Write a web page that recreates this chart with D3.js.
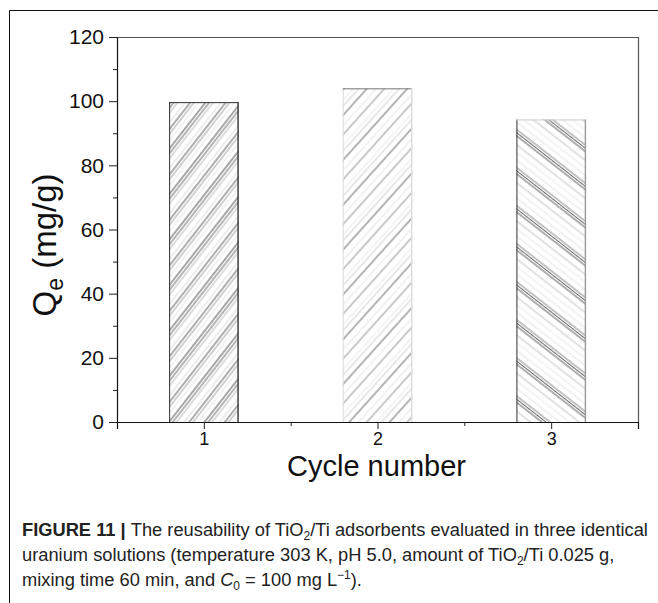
<!DOCTYPE html>
<html>
<head>
<meta charset="utf-8">
<script src="https://cdn.jsdelivr.net/npm/d3@7"></script>
<style>
  html, body { margin: 0; padding: 0; background: #fff; }
  svg { display: block; font-family: "Liberation Sans", Arial, sans-serif; }
</style>
</head>
<body>
<svg id="chart" width="658" height="603"></svg>
<script>
// Adsorption capacity over three reuse cycles
const cycles = [1, 2, 3];
const qe = [99.7, 104.0, 94.3];
const yTicks = [0, 20, 40, 60, 80, 100, 120];
const yMinor = [10, 30, 50, 70, 90, 110];
const xMinor = [1.5, 2.5];

const svg = d3.select("#chart");

// outer figure frame (open on right and bottom)
svg.append("path")
  .attr("d", "M9.5,603 V10.5 H658")
  .attr("fill", "none").attr("stroke", "#111").attr("stroke-width", 1);

const x = d3.scaleLinear().domain([0.5, 3.5]).range([117, 638]);
const y = d3.scaleLinear().domain([0, 120]).range([422, 37]);
const barW = 0.4;

// hatch patterns: [id, rotation, tile width, lines as [offset, gray, width]]
const hatchDefs = [
  ["h1", 38, 28, [[1, "#222", 0.8], [4, "#444", 0.8], [7, "#999", 0.7], [13, "#ccc", 0.7], [17, "#333", 0.8], [20, "#777", 0.7], [24, "#d8d8d8", 0.7]]],
  ["h2", 42, 30, [[2, "#444", 0.8], [9, "#d8d8d8", 0.7], [15, "#777", 0.8], [22, "#e0e0e0", 0.7], [26, "#bbb", 0.7]]],
  ["h3", -52, 30, [[1, "#333", 0.8], [3.5, "#444", 0.8], [6, "#666", 0.8], [12, "#d8d8d8", 0.7], [18, "#e0e0e0", 0.7], [24, "#aaa", 0.7]]]
];
const defs = svg.append("defs");
hatchDefs.forEach(([id, rot, w, lines]) => {
  const p = defs.append("pattern")
    .attr("id", id).attr("patternUnits", "userSpaceOnUse")
    .attr("width", w).attr("height", 40)
    .attr("patternTransform", `rotate(${rot})`);
  lines.forEach(([o, c, sw]) => {
    p.append("line").attr("x1", o).attr("x2", o).attr("y1", 0).attr("y2", 40)
      .attr("stroke", c).attr("stroke-width", sw);
  });
});

// per-bar edge colours: [left, top, right]
const edgeStyle = [
  ["#333", "#333", "#333"],
  ["#ddd", "#777", "#ddd"],
  ["#333", "#ccc", "#999"]
];

const bars = svg.append("g");
cycles.forEach((c, i) => {
  const x0 = x(c - barW / 2), x1 = x(c + barW / 2), yt = y(qe[i]), yb = y(0);
  bars.append("rect")
    .attr("x", x0).attr("y", yt).attr("width", x1 - x0).attr("height", yb - yt)
    .attr("fill", `url(#${hatchDefs[i][0]})`);
  const [l, t, r] = edgeStyle[i];
  bars.append("line").attr("x1", x0 + 0.5).attr("x2", x0 + 0.5).attr("y1", yt).attr("y2", yb).attr("stroke", l);
  bars.append("line").attr("x1", x0).attr("x2", x1).attr("y1", yt + 0.5).attr("y2", yt + 0.5).attr("stroke", t);
  bars.append("line").attr("x1", x1 - 0.5).attr("x2", x1 - 0.5).attr("y1", yt).attr("y2", yb).attr("stroke", r).attr("stroke-width", 1.4);
});

// frame: top and right
svg.append("path")
  .attr("d", `M${x(0.5)},${y(120) + 0.5} H${x(3.5) + 0.5} V${y(0)}`)
  .attr("fill", "none").attr("stroke", "#555").attr("stroke-width", 1.2);

// y axis
const yAxis = svg.append("g").attr("transform", `translate(${x(0.5)},0)`)
  .call(d3.axisLeft(y).tickValues(yTicks).tickSize(8).tickPadding(5).tickFormat(d3.format("d")));
svg.append("g").attr("transform", `translate(${x(0.5)},0)`)
  .call(d3.axisLeft(y).tickValues(yMinor).tickSize(4).tickFormat(""))
  .select(".domain").remove();

// x axis
const xAxis = svg.append("g").attr("transform", `translate(0,${y(0)})`)
  .call(d3.axisBottom(x).tickValues(cycles).tickSize(7).tickPadding(3).tickFormat(d3.format("d")));
svg.append("g").attr("transform", `translate(0,${y(0)})`)
  .call(d3.axisBottom(x).tickValues(xMinor).tickSize(4).tickFormat(""))
  .select(".domain").remove();

svg.selectAll(".domain").attr("stroke", "#111").attr("stroke-width", 1.2);
svg.selectAll(".tick line").attr("stroke", "#222");
yAxis.selectAll("text").attr("font-size", 21).attr("fill", "#111")
  .attr("font-family", "Liberation Sans, Arial, sans-serif");
xAxis.selectAll("text").attr("font-size", 18).attr("fill", "#111")
  .attr("font-family", "Liberation Sans, Arial, sans-serif");

// axis titles
svg.append("text")
  .attr("x", x(2) - 1).attr("y", 476)
  .attr("text-anchor", "middle").attr("font-size", 29).attr("fill", "#111")
  .text("Cycle number");

const yt = svg.append("text")
  .attr("transform", "translate(56,245) rotate(-90)")
  .attr("text-anchor", "middle").attr("font-size", 33).attr("fill", "#111");
yt.append("tspan").text("Q");
yt.append("tspan").attr("font-size", 23).attr("dy", 7).text("e");
yt.append("tspan").attr("dy", -7).text(" (mg/g)");

// caption
const cap = svg.append("g").attr("fill", "#222").attr("font-size", 18.3)
  .attr("font-family", "Liberation Sans Narrow, Liberation Sans, Arial, sans-serif");
const line1 = cap.append("text").attr("x", 22).attr("y", 536);
line1.append("tspan").attr("font-weight", "bold").text("FIGURE 11 | ");
line1.append("tspan").text("The reusability of TiO");
line1.append("tspan").attr("font-size", 12).attr("dy", 4).text("2");
line1.append("tspan").attr("dy", -4).text("/Ti adsorbents evaluated in three identical");

const line2 = cap.append("text").attr("x", 22).attr("y", 561);
line2.append("tspan").text("uranium solutions (temperature 303 K, pH 5.0, amount of TiO");
line2.append("tspan").attr("font-size", 12).attr("dy", 4).text("2");
line2.append("tspan").attr("dy", -4).text("/Ti 0.025 g,");

const line3 = cap.append("text").attr("x", 22).attr("y", 586);
line3.append("tspan").text("mixing time 60 min, and ");
line3.append("tspan").attr("font-style", "italic").text("C");
line3.append("tspan").attr("font-size", 12).attr("dy", 4).text("0");
line3.append("tspan").attr("dy", -4).text(" = 100 mg L");
line3.append("tspan").attr("font-size", 12).attr("dy", -7).text("\u22121");
line3.append("tspan").attr("dy", 7).text(").");
</script>
</body>
</html>
